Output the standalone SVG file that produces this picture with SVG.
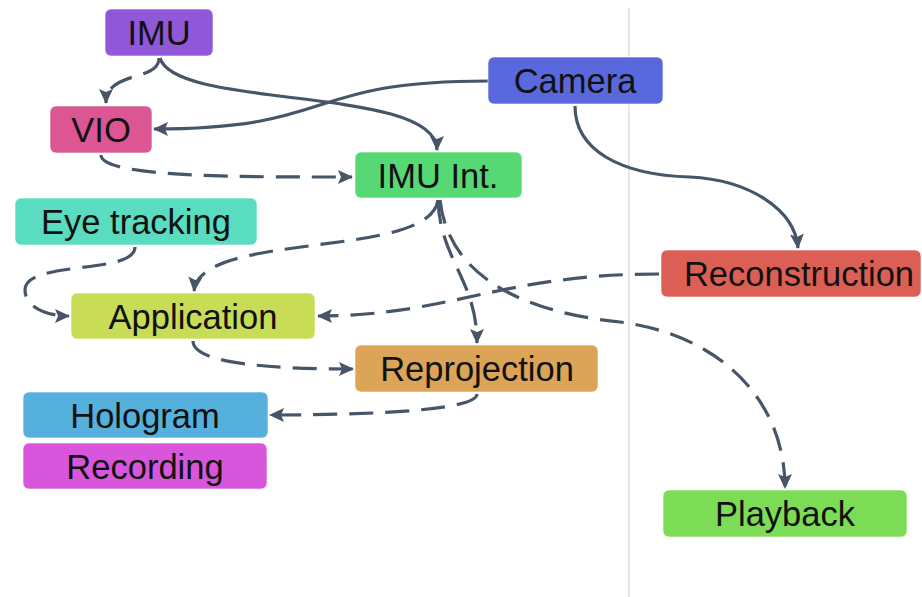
<svg xmlns="http://www.w3.org/2000/svg" width="922" height="597" viewBox="0 0 922 597">
<style>
.n rect{stroke:rgba(255,255,255,0.6);stroke-width:1}
.n text{font-family:"Liberation Sans",Arial,sans-serif;font-size:34.5px;fill:#111;text-anchor:middle}
.e path{fill:none;stroke:#475569;stroke-width:3.2}
.e .d{stroke-dasharray:24 12}
</style>
<defs>
<marker id="ah" markerUnits="userSpaceOnUse" markerWidth="16" markerHeight="16" viewBox="0 0 16 16" refX="14" refY="8" orient="auto">
<path d="M0,1 L15,8 L0,15 L3,8 Z" fill="#475569"/>
</marker>
</defs>
<rect width="922" height="597" fill="#fff"/>
<line x1="629" y1="8" x2="629" y2="597" stroke="#dedede" stroke-width="1.5"/>
<g class="e">
<path class="d" d="M159,58 C159,82 106,70 106,103" marker-end="url(#ah)"/>
<path d="M160,58 C175,110 437,85 437,150" marker-end="url(#ah)"/>
<path d="M488,81 C300,81 340,129 154,129" marker-end="url(#ah)"/>
<path class="d" d="M101,155 C101,178 250,177 352,177" marker-end="url(#ah)"/>
<path d="M575,106 C575,150 620,175 690,177 C750,180 795,210 798,248" marker-end="url(#ah)"/>
<path class="d" d="M438,200 C430,260 200,230 194,291" marker-end="url(#ah)"/>
<path class="d" d="M438,200 C440,260 477,280 477,343" marker-end="url(#ah)"/>
<path class="d" d="M440,200 C450,290 550,315 620,322 C720,335 785,400 785,488" marker-end="url(#ah)"/>
<path class="d" d="M659,274 C500,274 450,316 318,316" marker-end="url(#ah)"/>
<path class="d" d="M135,247 C135,275 25,260 25,290 C25,306 45,316 69,316" marker-end="url(#ah)"/>
<path class="d" d="M193,341 C193,365 280,369 353,369" marker-end="url(#ah)"/>
<path class="d" d="M477,394 C477,412 350,415 270,415" marker-end="url(#ah)"/>
</g>
<g id="imu" class="n"><rect x="105" y="9" width="108" height="47" rx="6" fill="#9058d9"/><text x="159" y="45">IMU</text></g>
<g id="vio" class="n"><rect x="50" y="106" width="102" height="47" rx="6" fill="#dc5694"/><text x="101" y="142">VIO</text></g>
<g id="imuint" class="n"><rect x="355" y="152" width="167" height="46" rx="6" fill="#56d975"/><text x="438" y="188">IMU Int.</text></g>
<g id="camera" class="n"><rect x="488" y="57" width="175" height="47" rx="6" fill="#5968dd"/><text x="575" y="93">Camera</text></g>
<g id="eye" class="n"><rect x="15" y="198" width="242" height="47" rx="6" fill="#59dcbf"/><text x="136" y="234">Eye tracking</text></g>
<g id="recon" class="n"><rect x="661" y="250" width="260" height="47" rx="6" fill="#dc5f56"/><text x="799" y="286">Reconstruction</text></g>
<g id="app" class="n"><rect x="71" y="293" width="244" height="46" rx="6" fill="#c9dc56"/><text x="193" y="329">Application</text></g>
<g id="reproj" class="n"><rect x="355" y="345" width="243" height="47" rx="6" fill="#dca456"/><text x="477" y="381">Reprojection</text></g>
<g id="holo" class="n"><rect x="23" y="392" width="245" height="46" rx="6" fill="#56b0dc"/><text x="145" y="428">Hologram</text></g>
<g id="rec" class="n"><rect x="23" y="443" width="244" height="46" rx="6" fill="#d856dc"/><text x="145" y="479">Recording</text></g>
<g id="play" class="n"><rect x="663" y="490" width="244" height="47" rx="6" fill="#7cdc56"/><text x="785" y="526">Playback</text></g>
</svg>
